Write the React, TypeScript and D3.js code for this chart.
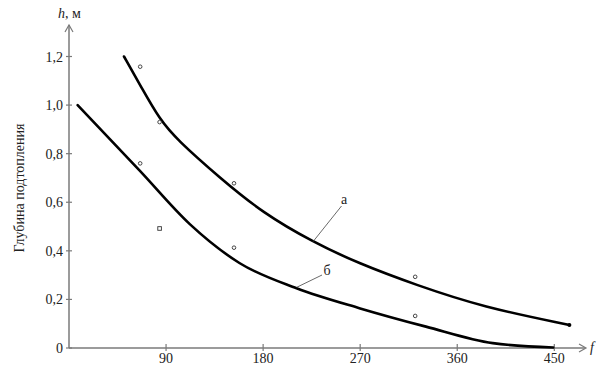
import React from "react";
import * as d3 from "d3";

const curveAF = [51, 68, 84, 100, 140, 180, 226, 268, 322, 384, 464];
const curveAH = [1.2, 1.066, 0.942, 0.858, 0.7, 0.555, 0.437, 0.349, 0.259, 0.168, 0.095];
const curveBF = [8, 66, 112, 158, 211, 270, 331, 393, 449];
const curveBH = [1.0, 0.728, 0.51, 0.35, 0.246, 0.163, 0.088, 0.02, 0.002];
const pointF = [66, 84, 153, 321, 66, 153, 321];
const pointH = [1.158, 0.93, 0.678, 0.293, 0.76, 0.413, 0.132];
const squareF = [84];
const squareH = [0.492];
const xTicks = [90, 180, 270, 360, 450];
const yTicks = [0, 0.2, 0.4, 0.6, 0.8, 1.0, 1.2];
const yTickLabels = ["0", "0,2", "0,4", "0,6", "0,8", "1,0", "1,2"];

export default function App() {
  const W = 616, H = 375;
  const x = d3.scaleLinear().domain([0, 450]).range([69, 554.3]);
  const y = d3.scaleLinear().domain([0, 1.2]).range([348, 56.5]);
  const lineA = d3
    .line<[number, number]>()
    .x((d) => x(d[0]))
    .y((d) => y(d[1]))
    .curve(d3.curveBasis);
  const lineB = d3
    .line<[number, number]>()
    .x((d) => x(d[0]))
    .y((d) => y(d[1]))
    .curve(d3.curveMonotoneX);
  const a: [number, number][] = curveAF.map((f, i) => [f, curveAH[i]]);
  const b: [number, number][] = curveBF.map((f, i) => [f, curveBH[i]]);
  const axisColor = "#7a7a7a";
  const font = "Liberation Serif, serif";
  return (
    <svg width={W} height={H} style={{ position: "absolute", left: 0, top: 0, background: "#fff", fontFamily: font }}>
      {/* axes */}
      <line x1={69} y1={348} x2={585} y2={348} stroke={axisColor} strokeWidth={1.5} />
      <path d="M579,344 L586,348 L579,352" fill="none" stroke={axisColor} strokeWidth={1.2} />
      <line x1={69} y1={348} x2={69} y2={25} stroke={axisColor} strokeWidth={1.5} />
      <path d="M65,32 L69,25 L73,32" fill="none" stroke={axisColor} strokeWidth={1.2} />
      {xTicks.map((t) => (
        <g key={t}>
          <line x1={x(t)} x2={x(t)} y1={344} y2={351} stroke={axisColor} strokeWidth={1.2} />
          <text x={x(t)} y={363} fontSize={14} textAnchor="middle" fill="#222" style={{ fontFamily: font }}>{t}</text>
        </g>
      ))}
      {yTicks.map((t, i) => (
        <g key={t}>
          <line x1={66} x2={72} y1={y(t)} y2={y(t)} stroke={axisColor} strokeWidth={1.2} />
          <text x={63} y={y(t) + 5} fontSize={14} textAnchor="end" fill="#222" style={{ fontFamily: font }}>{yTickLabels[i]}</text>
        </g>
      ))}
      <text x={58} y={18} fontSize={14} fill="#222" style={{ fontFamily: font }}>
        <tspan fontStyle="italic">h</tspan>, м
      </text>
      <text x={590} y={352} fontSize={14} fontStyle="italic" fill="#222" style={{ fontFamily: font }}>f</text>
      <text transform="translate(24,188) rotate(-90)" fontSize={14} textAnchor="middle" fill="#222" style={{ fontFamily: font }}>
        Глубина подтопления
      </text>
      {/* curves */}
      <path d={lineA(a) || ""} fill="none" stroke="#000" strokeWidth={2.6} strokeLinecap="round" />
      <path d={lineB(b) || ""} fill="none" stroke="#000" strokeWidth={2.6} strokeLinecap="round" />
      <circle cx={x(curveAF[curveAF.length - 1])} cy={y(curveAH[curveAH.length - 1])} r={2} fill="#000" />
      {/* data points */}
      {pointF.map((f, i) => (
        <circle key={i} cx={x(f)} cy={y(pointH[i])} r={1.8} fill="#fff" stroke="#333" strokeWidth={0.9} />
      ))}
      {squareF.map((f, i) => (
        <rect key={i} x={x(f) - 1.8} y={y(squareH[i]) - 1.8} width={3.6} height={3.6} fill="#fff" stroke="#333" strokeWidth={0.9} />
      ))}
      {/* labels */}
      <line x1={341.5} y1={206} x2={313} y2={241.7} stroke="#444" strokeWidth={0.8} />
      <text x={344} y={204} fontSize={14} textAnchor="middle" fill="#222" style={{ fontFamily: font }}>а</text>
      <line x1={322} y1={275} x2={296.7} y2={287.3} stroke="#444" strokeWidth={0.8} />
      <text x={327} y={275} fontSize={14} textAnchor="middle" fill="#222" style={{ fontFamily: font }}>б</text>
    </svg>
  );
}
